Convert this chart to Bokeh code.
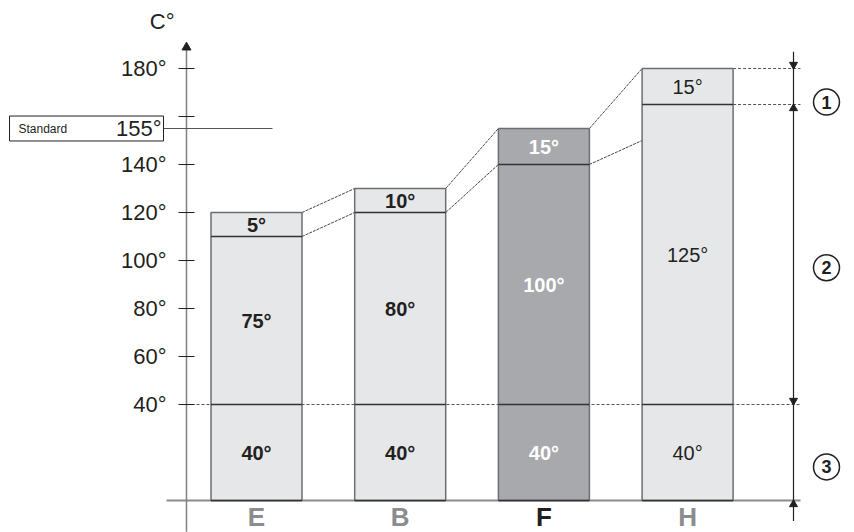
from bokeh.plotting import figure
from bokeh.models import Range1d, ColumnDataSource
from bokeh.embed import file_html
from bokeh.resources import INLINE
from bokeh.core.properties import value

# ---------------- data ----------------
categories = ["E", "B", "F", "H"]
base_top = [40, 40, 40, 40]
mid_top = [110, 120, 140, 165]
bar_top = [120, 130, 155, 180]
base_labels = ["40°", "40°", "40°", "40°"]
mid_labels = ["75°", "80°", "100°", "125°"]
top_labels = ["5°", "10°", "15°", "15°"]
lower_link_target = [120, 140, 150]
y_ticks = [40, 60, 80, 100, 120, 140, 160, 180]
y_tick_labels = ["40°", "60°", "80°", "100°", "120°", "140°", "", "180°"]
standard_value = 155
standard_label = "155°"
zone_labels = ["1", "2", "3"]
zone_bounds = [180, 165, 40, 0]

# ---------------- styles ----------------
FONT = value("Liberation Sans")
INK = "#231f20"
bar_fill = ["#e6e7e8", "#e6e7e8", "#a7a9ac", "#e6e7e8"]
label_color = [INK, INK, "#ffffff", INK]
label_style = ["bold", "bold", "bold", "normal"]
cat_color = ["#8a8c8e", "#8a8c8e", INK, "#8a8c8e"]

PX = 143.7   # px per category step
PY = 2.4     # px per degree
W = 91 / PX  # bar width
xs = list(range(len(categories)))

WIDTH, HEIGHT = 854, 532
x0 = -256 / PX
y0 = -(HEIGHT - 500) / PY
p = figure(width=WIDTH, height=HEIGHT, output_backend="svg", toolbar_location=None,
           x_range=Range1d(x0, x0 + WIDTH / PX), y_range=Range1d(y0, y0 + HEIGHT / PY),
           min_border=0, x_axis_type=None, y_axis_type=None)
p.grid.visible = False
p.outline_line_color = None

AX = (186 - 256) / PX          # y-axis location
RIGHT_END = (800 - 256) / PX   # right end of guide lines
BX = (793 - 256) / PX          # dimension line
CX = (826 - 256) / PX          # circled numbers

# baseline
p.segment(x0=[(166 - 256) / PX], y0=[0], x1=[RIGHT_END], y1=[0], line_color="#8a8c8e", line_width=2)
# 40° dashed guide
p.segment(x0=[AX], y0=[base_top[0]], x1=[RIGHT_END], y1=[base_top[0]],
          line_color="#555555", line_width=1, line_dash="3 2")
# dashed guides right of H
p.segment(x0=[xs[-1] + W / 2] * 2, y0=[bar_top[-1], mid_top[-1]],
          x1=[RIGHT_END] * 2, y1=[bar_top[-1], mid_top[-1]],
          line_color="#555555", line_width=1, line_dash="3 2")

# connector lines between bars
p.segment(x0=[i + W / 2 for i in xs[:-1]], y0=bar_top[:-1],
          x1=[i + 1 - W / 2 for i in xs[:-1]], y1=bar_top[1:],
          line_color="#444444", line_width=1, line_dash="3 1")
p.segment(x0=[i + W / 2 for i in xs[:-1]], y0=mid_top[:-1],
          x1=[i + 1 - W / 2 for i in xs[:-1]], y1=lower_link_target,
          line_color="#444444", line_width=1, line_dash="3 1")

# bars
p.vbar(x=xs, bottom=0, top=bar_top, width=W, fill_color=bar_fill,
       line_color="#6d6e71", line_width=1.5)
# dividers
p.segment(x0=[i - W / 2 for i in xs] * 3, y0=base_top + mid_top + [0] * 4,
          x1=[i + W / 2 for i in xs] * 3, y1=base_top + mid_top + [0] * 4,
          line_color="#333333", line_width=1.5)

# labels inside bars
src = ColumnDataSource(dict(
    x=xs * 3,
    y=[b / 2 for b in base_top] + [(b + m) / 2 for b, m in zip(base_top, mid_top)]
      + [(m + t) / 2 for m, t in zip(mid_top, bar_top)],
    text=base_labels + mid_labels + top_labels,
    color=label_color * 3,
    style=label_style * 3,
))
p.text(x="x", y="y", text="text", source=src, text_color="color", text_font_style="style",
       text_font=FONT, text_font_size="20px", text_align="center", text_baseline="middle")

# category letters
p.text(x=xs, y=[-7.0] * 4, text=categories, text_color=cat_color, text_font=FONT,
       text_font_style="bold", text_font_size="26px", text_align="center",
       text_baseline="middle")

# y axis
p.segment(x0=[AX], y0=[-13], x1=[AX], y1=[188], line_color="#808080", line_width=1.5)
p.scatter(x=[AX], y=[188.8], marker="triangle", size=9, fill_color=INK, line_color=INK)
p.scatter(x=[AX] * len(y_ticks), y=y_ticks, marker="dash", size=16, line_color=INK, line_width=1.2)
p.text(x=[AX] * len(y_ticks), y=y_ticks, text=y_tick_labels, x_offset=-20, text_color=INK,
       text_font=FONT, text_font_size="22px", text_align="right", text_baseline="middle")
p.text(x=[AX], y=[199.5], text=["C°"], x_offset=-12, text_color=INK, text_font=FONT,
       text_font_size="22px", text_align="right", text_baseline="middle")

# standard box
BOX_L = (9 - 256) / PX
BOX_R = (163 - 256) / PX
p.segment(x0=[BOX_R], y0=[standard_value], x1=[(272 - 256) / PX], y1=[standard_value],
          line_color="#555555", line_width=1.2)
p.quad(left=[BOX_L], right=[BOX_R], bottom=[standard_value - 5.2], top=[standard_value + 5.2],
       fill_color="white", line_color=INK, line_width=1)
p.text(x=[BOX_L], y=[standard_value], text=["Standard"], x_offset=9, text_color=INK,
       text_font=FONT, text_font_size="12px", text_align="left", text_baseline="middle")
p.text(x=[BOX_R], y=[standard_value], text=[standard_label], x_offset=-2, text_color=INK,
       text_font=FONT, text_font_size="22px", text_align="right", text_baseline="middle")

# dimension line with arrows
p.segment(x0=[BX], y0=[-8.5], x1=[BX], y1=[187], line_color=INK, line_width=1.2)
down_y = [zone_bounds[0] + 1.6, zone_bounds[2] + 1.6]
up_y = [zone_bounds[1] - 1.6, zone_bounds[3] - 1.6]
p.scatter(x=[BX] * 2, y=down_y, marker="inverted_triangle", size=8, fill_color=INK, line_color=INK)
p.scatter(x=[BX] * 2, y=up_y, marker="triangle", size=8, fill_color=INK, line_color=INK)

# circled zone numbers
circle_y = [166, 97, 14]
p.scatter(x=[CX] * 3, y=circle_y, marker="circle", size=26, fill_color="white",
          line_color=INK, line_width=1.5)
p.text(x=[CX] * 3, y=circle_y, text=zone_labels, text_color=INK, text_font=FONT,
       text_font_style="bold", text_font_size="18px", text_align="center", text_baseline="middle")

open("out.html", "w").write(file_html(p, INLINE))
